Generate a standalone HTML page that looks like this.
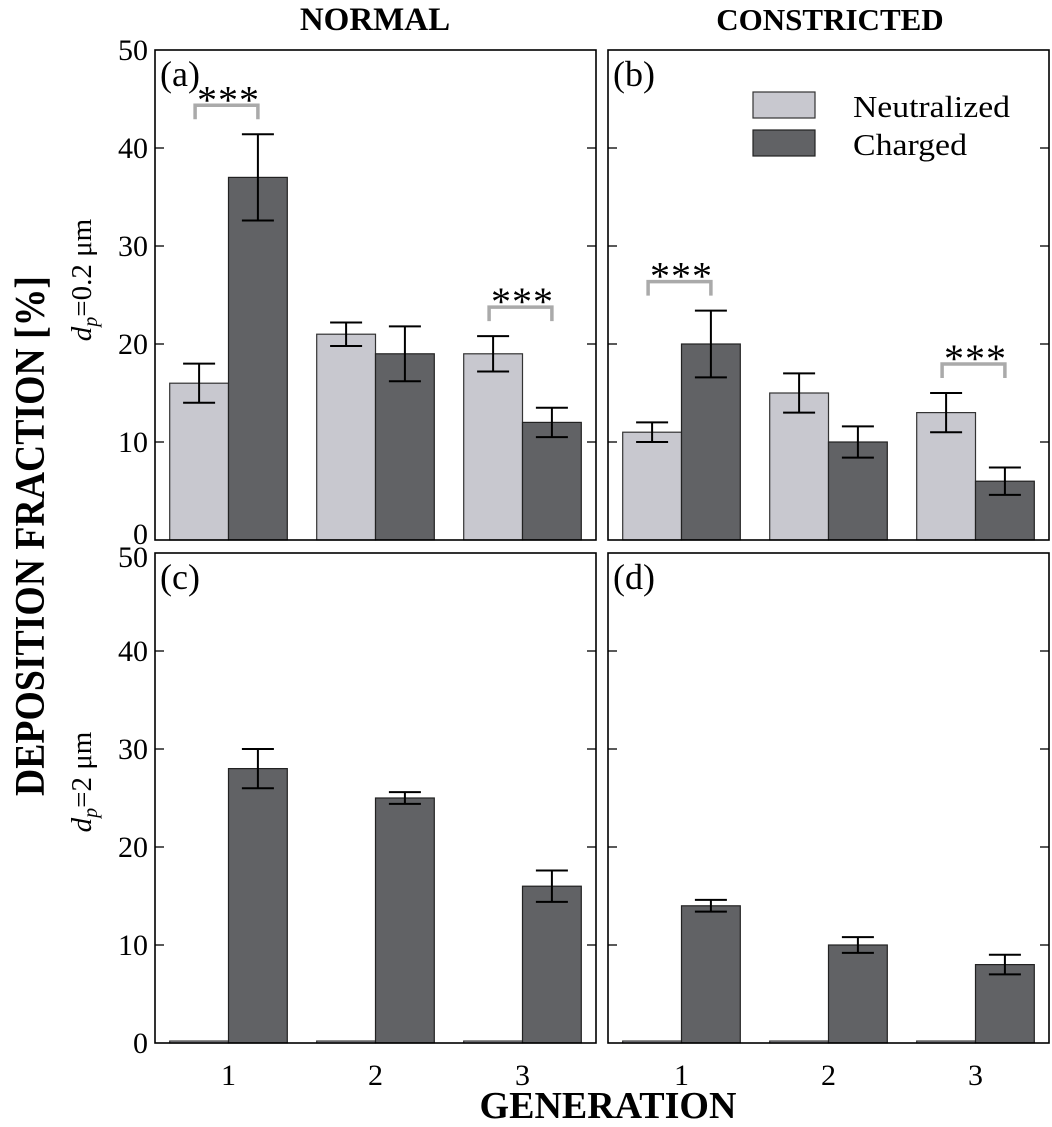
<!DOCTYPE html>
<html><head><meta charset="utf-8"><style>
html,body{margin:0;padding:0;background:#fff;}
svg text{font-family:"Liberation Serif",serif;}
</style></head><body>
<svg id="chart" width="1052" height="1122" viewBox="0 0 1052 1122" xmlns="http://www.w3.org/2000/svg"></svg>
<script>
const generations = ["1","2","3"];
const yTicks = [0,10,20,30,40,50];
const aNeutral = [16,21,19], aNeutralErr = [2,1.2,1.8];
const aCharged = [37,19,12], aChargedErr = [4.4,2.8,1.5];
const bNeutral = [11,15,13], bNeutralErr = [1,2,2];
const bCharged = [20,10,6], bChargedErr = [3.4,1.6,1.4];
const cNeutral = [0.2,0.2,0.2], cNeutralErr = [0,0,0];
const cCharged = [28,25,16], cChargedErr = [2,0.6,1.6];
const dNeutral = [0.2,0.2,0.2], dNeutralErr = [0,0,0];
const dCharged = [14,10,8], dChargedErr = [0.6,0.8,1];
const aSig = [0,2], bSig = [0,2];

const NS="http://www.w3.org/2000/svg";
const svg=document.getElementById('chart');
function mk(tag,attrs,parent){const e=document.createElementNS(NS,tag);for(const k in attrs)e.setAttribute(k,attrs[k]);(parent||svg).appendChild(e);return e;}

const panels=[
 {id:'a',x0:155,x1:596,y0:50,y1:540,n:aNeutral,ne:aNeutralErr,c:aCharged,ce:aChargedErr,sig:aSig,labels:true,xl:false},
 {id:'b',x0:608,x1:1049,y0:50,y1:540,n:bNeutral,ne:bNeutralErr,c:bCharged,ce:bChargedErr,sig:bSig,labels:false,xl:false},
 {id:'c',x0:155,x1:596,y0:553,y1:1043,n:cNeutral,ne:cNeutralErr,c:cCharged,ce:cChargedErr,sig:[],labels:true,xl:true},
 {id:'d',x0:608,x1:1049,y0:553,y1:1043,n:dNeutral,ne:dNeutralErr,c:dCharged,ce:dChargedErr,sig:[],labels:false,xl:true}
];
panels.forEach(p=>{
  const g=mk('g',{});
  
  
  const ys=v=>p.y1-(v/50)*(p.y1-p.y0);
  const gw=(p.x1-p.x0)/3, bw=gw*0.4, off=gw*0.1;
  yTicks.forEach(t=>{
    const y=ys(t);
    if(t>0&&t<50){
      const l1=mk('line',{x1:p.x0,x2:p.x0+9,y1:y,y2:y,stroke:'#000','stroke-width':1.3},g);
      
      
      const l2=mk('line',{x1:p.x1-9,x2:p.x1,y1:y,y2:y,stroke:'#000','stroke-width':1.3},g);
      
      
    }
    if(p.labels){
      let yy=y+10;
      if(t===0&&p.id==='a')yy=y+4;
      if(t===50&&p.id==='c')yy=y+14;
      const tx=mk('text',{x:p.x0-7,y:yy,'text-anchor':'end','font-size':30},g);
      tx.textContent=t;
      
      
    }
  });
  for(let i=0;i<3;i++){
    const gx=p.x0+gw*i;
    const nx=gx+off, cx=gx+off+bw;
    const bn=mk('rect',{x:nx,y:ys(p.n[i]),width:bw,height:ys(0)-ys(p.n[i]),fill:'#c8c8cf',stroke:'#333','stroke-width':1.2},g);
    
    
    const bc=mk('rect',{x:cx,y:ys(p.c[i]),width:bw,height:ys(0)-ys(p.c[i]),fill:'#616265',stroke:'#222','stroke-width':1.2},g);
    
    
    [[nx+bw/2,p.n[i],p.ne[i]],[cx+bw/2,p.c[i],p.ce[i]]].forEach(([mx,v,e])=>{
      if(e<=0)return;
      const eg=mk('g',{stroke:'#000','stroke-width':2},g);
      
      
      mk('line',{x1:mx,x2:mx,y1:ys(v-e),y2:ys(v+e)},eg);
      mk('line',{x1:mx-16,x2:mx+16,y1:ys(v-e),y2:ys(v-e)},eg);
      mk('line',{x1:mx-16,x2:mx+16,y1:ys(v+e),y2:ys(v+e)},eg);
    });
    if(p.xl){
      const tx=mk('text',{x:gx+gw/2,y:p.y1+42,'text-anchor':'middle','font-size':30},g);
      tx.textContent=generations[i];
      
      
    }
    if(p.sig.includes(i)){
      const top=Math.max(p.n[i]+p.ne[i],p.c[i]+p.ce[i]);
      const by=ys(top)-29;
      const bl=nx+bw/2-4, br=cx+bw/2;
      const bk=mk('path',{d:`M${bl},${by+14} V${by} H${br} V${by+14}`,fill:'none',stroke:'#aaa','stroke-width':3.5},g);
      
      
      const st=mk('text',{x:(bl+br)/2+2,y:by+8,'text-anchor':'middle','font-size':40,'letter-spacing':1},g);
      st.textContent='***';
      
      
    }
  }
  const fr=mk('rect',{x:p.x0,y:p.y0,width:p.x1-p.x0,height:p.y1-p.y0,fill:'none',stroke:'#000','stroke-width':1.6},g);
  
  
  const pl=mk('text',{x:p.x0+5,y:p.y0+36,'font-size':36},g);
  pl.textContent='('+p.id+')';
  
  
});
</script>
<div style="position:absolute;left:0;top:0;width:1052px;height:1122px;pointer-events:none">
<svg width="1052" height="1122" xmlns="http://www.w3.org/2000/svg">
 <text x="375" y="30" text-anchor="middle" font-size="33" font-weight="bold">NORMAL</text>
 <text x="830" y="30" text-anchor="middle" font-size="31" font-weight="bold">CONSTRICTED</text>
 <text x="608" y="1118" text-anchor="middle" font-size="38" font-weight="bold">GENERATION</text>
 <text transform="translate(44,536) rotate(-90)" text-anchor="middle" font-size="42" font-weight="bold" textLength="520" lengthAdjust="spacingAndGlyphs">DEPOSITION FRACTION [%]</text>
 <text transform="translate(91,280) rotate(-90)" text-anchor="middle" font-size="29"><tspan font-style="italic">d</tspan><tspan font-style="italic" font-size="20" dy="6">p</tspan><tspan dy="-6">=0.2 μm</tspan></text>
 <text transform="translate(91,782) rotate(-90)" text-anchor="middle" font-size="29"><tspan font-style="italic">d</tspan><tspan font-style="italic" font-size="20" dy="6">p</tspan><tspan dy="-6">=2 μm</tspan></text>
 <g>
  <rect x="753" y="92" width="62" height="26" fill="#c8c8cf" stroke="#333" stroke-width="1.2"/>
  <text x="853" y="117" font-size="31" textLength="157" lengthAdjust="spacingAndGlyphs">Neutralized</text>
  <rect x="753" y="130" width="62" height="26" fill="#616265" stroke="#222" stroke-width="1.2"/>
  <text x="853" y="155" font-size="31" textLength="114" lengthAdjust="spacingAndGlyphs">Charged</text>
 </g>
</svg>
</div>
</body></html>
